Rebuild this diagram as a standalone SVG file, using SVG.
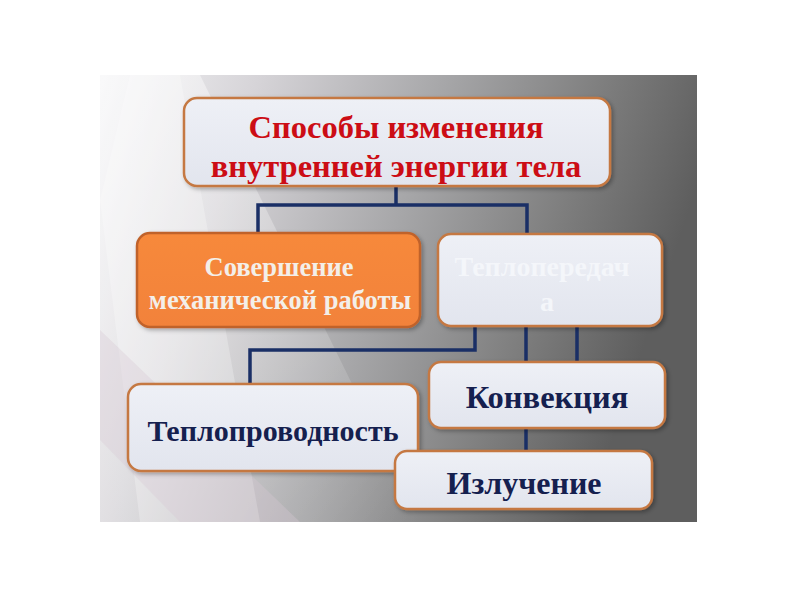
<svg xmlns="http://www.w3.org/2000/svg" width="800" height="600" viewBox="0 0 800 600">
<defs>
<linearGradient id="bg" x1="0" y1="0" x2="1" y2="0.25">
<stop offset="0" stop-color="#f4f4f6"/>
<stop offset="0.25" stop-color="#d6d4d8"/>
<stop offset="0.55" stop-color="#a6a6a8"/>
<stop offset="0.8" stop-color="#7e7e7e"/>
<stop offset="1" stop-color="#5e5e5e"/>
</linearGradient>
<linearGradient id="streak" x1="0" y1="0" x2="1" y2="1">
<stop offset="0" stop-color="#ffffff" stop-opacity="0.9"/>
<stop offset="1" stop-color="#ffffff" stop-opacity="0"/>
</linearGradient>
<linearGradient id="box" x1="0" y1="0" x2="0" y2="1">
<stop offset="0" stop-color="#eef0f6"/>
<stop offset="1" stop-color="#e2e5ee"/>
</linearGradient>
<linearGradient id="orange" x1="0" y1="0" x2="0" y2="1">
<stop offset="0" stop-color="#f7893a"/>
<stop offset="1" stop-color="#f2823a"/>
</linearGradient>
<filter id="sh" x="-5%" y="-5%" width="115%" height="120%">
<feDropShadow dx="2" dy="2" stdDeviation="2" flood-color="#000" flood-opacity="0.3"/>
</filter>
</defs>
<style>
.node rect{stroke:#c57842;stroke-width:2.5;filter:url(#sh)}
.lt rect{fill:url(#box)}
text{font-family:"Liberation Serif","Times New Roman",serif;font-weight:bold;text-anchor:middle}
.red{fill:#cc0d15;font-size:32.5px}
.navy{fill:#15204f;font-size:32px}
.wh{fill:#f3efe9;font-size:26.5px}
.wh2{fill:#f4f6fa;font-size:28px}
#connectors path{fill:none;stroke:#1a2f66;stroke-width:3.5}
</style>
<rect x="0" y="0" width="800" height="600" fill="#ffffff"/>
<g id="background">
<rect x="100" y="75" width="597" height="447" fill="url(#bg)"/>
<polygon points="100,75 200,75 420,522 100,522" fill="url(#streak)" opacity="0.55"/>
<polygon points="100,200 130,75 180,75 260,522 140,522" fill="#ffffff" opacity="0.25"/>
<polygon points="100,330 300,522 180,522 100,440" fill="#d8c8d4" opacity="0.35"/>
</g>
<g id="connectors">
<path d="M396,187 V205 M258,234 V205 H527 V235"/>
<path d="M475,326 V350 H250 V384"/>
<path d="M526,326 V362 M577,326 V362"/>
<path d="M526,428 V451"/>
</g>
<g id="n-root" class="node lt">
<rect x="184" y="98" width="426" height="88" rx="13"/>
<text class="red" x="396" y="138">Способы изменения</text>
<text class="red" x="396" y="177">внутренней энергии тела</text>
</g>
<g id="n-work" class="node">
<rect x="137" y="233" width="283" height="94" rx="13" fill="url(#orange)" style="stroke:#c0622c"/>
<text class="wh" x="279" y="276">Совершение</text>
<text class="wh" x="280" y="309">механической работы</text>
</g>
<g id="n-heat" class="node lt">
<rect x="438" y="234" width="224" height="92" rx="13"/>
<text class="wh2" x="542" y="276">Теплопередач</text>
<text class="wh2" x="547" y="311">а</text>
</g>
<g id="n-conv" class="node lt">
<rect x="429" y="362" width="236" height="66" rx="12"/>
<text class="navy" x="547" y="408" style="font-size:32.5px">Конвекция</text>
</g>
<g id="n-cond" class="node lt">
<rect x="128" y="384" width="290" height="87" rx="13"/>
<text class="navy" x="273" y="441" style="font-size:30px">Теплопроводность</text>
</g>
<g id="n-rad" class="node lt">
<rect x="395" y="451" width="257" height="58" rx="12"/>
<text class="navy" x="524" y="494">Излучение</text>
</g>
</svg>
